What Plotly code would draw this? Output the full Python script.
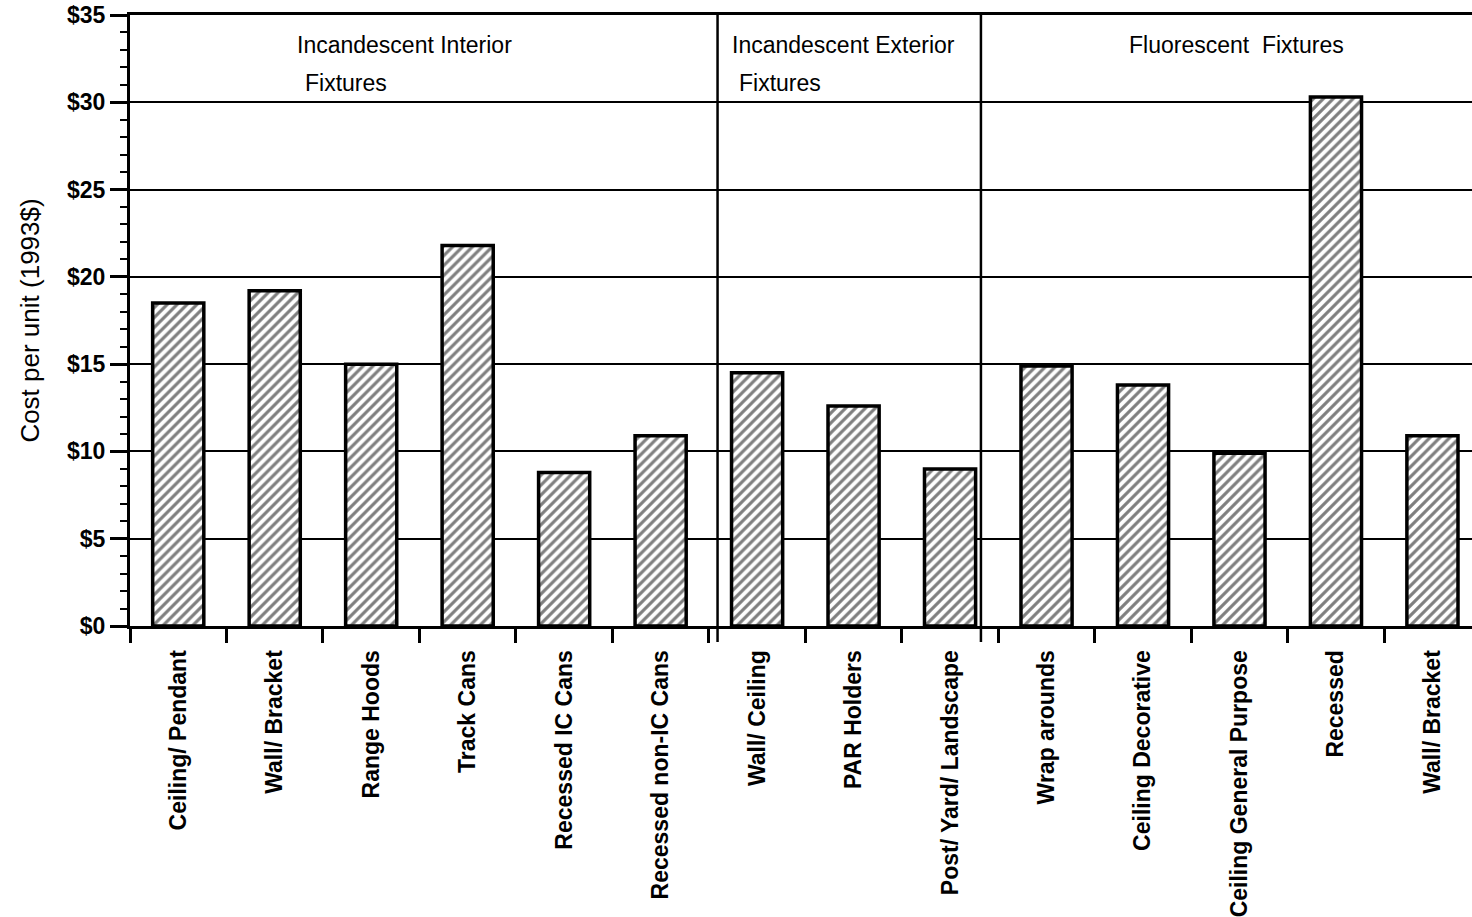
import plotly.graph_objects as go

categories = ["Ceiling/ Pendant", "Wall/ Bracket", "Range Hoods", "Track Cans",
              "Recessed IC Cans", "Recessed non-IC Cans", "Wall/ Ceiling", "PAR Holders",
              "Post/ Yard/ Landscape", "Wrap arounds", "Ceiling Decorative",
              "Ceiling General Purpose", "Recessed", "Wall/ Bracket"]
costs = [18.5, 19.2, 15.0, 21.8, 8.8, 10.9, 14.5, 12.6, 9.0, 14.9, 13.8, 9.9, 30.3, 10.9]
y_ticks = [0, 5, 10, 15, 20, 25, 30, 35]
y_tick_labels = ["$0", "$5", "$10", "$15", "$20", "$25", "$30", "$35"]
group_separators = [5.59, 8.32]
group_labels = [
    ("Incandescent Interior", 1.21, 33.3),
    ("Fixtures", 1.29, 31.1),
    ("Incandescent Exterior", 5.72, 33.3),
    ("Fixtures", 5.79, 31.1),
    ("Fluorescent  Fixtures", 9.83, 33.3),
]

xs = list(range(len(categories)))
FONT = "Liberation Sans, Arial, Helvetica, sans-serif"

fig = go.Figure()
fig.add_trace(go.Bar(
    x=xs, y=costs, width=0.53,
    marker=dict(color="white",
                line=dict(color="black", width=3.5),
                pattern=dict(shape="/", fgcolor="black", bgcolor="white",
                             size=7, solidity=0.45)),
    showlegend=False, hoverinfo="skip",
))

for sx in group_separators:
    fig.add_shape(type="line", xref="x", yref="paper", x0=sx, x1=sx,
                  y0=-0.026, y1=1, line=dict(color="black", width=2.5), layer="above")

for text, gx, gy in group_labels:
    fig.add_annotation(x=gx, y=gy, xref="x", yref="y", text=text, showarrow=False,
                       xanchor="left", yanchor="middle",
                       font=dict(family=FONT, size=23, color="black"))

boundaries = [i - 0.5 for i in range(len(categories) + 1)]

fig.update_layout(
    width=1472, height=917,
    margin=dict(l=130, r=0, t=15, b=289),
    paper_bgcolor="white", plot_bgcolor="white",
    xaxis=dict(
        range=[-0.5, 13.41], tickvals=xs, ticktext=categories, tickangle=-90,
        ticks="outside", ticklen=12, tickcolor="rgba(0,0,0,0)",
        tickfont=dict(family=FONT, size=23, color="black", weight="bold"),
        showline=True, linecolor="black", linewidth=3, mirror=True,
        showgrid=False, zeroline=False,
        minor=dict(tickvals=boundaries, ticks="outside", ticklen=14,
                   tickcolor="black", tickwidth=2.5, showgrid=False),
    ),
    yaxis=dict(
        range=[0, 35], tickvals=y_ticks, ticktext=y_tick_labels,
        ticks="outside", ticklen=17, tickwidth=2.5, tickcolor="black",
        tickfont=dict(family=FONT, size=23, color="black", weight="bold"),
        showline=True, linecolor="black", linewidth=3,
        showgrid=True, gridcolor="black", gridwidth=2, zeroline=False,
        minor=dict(dtick=1, ticks="outside", ticklen=7, tickwidth=1.5,
                   tickcolor="black", showgrid=False),
        title=dict(text="Cost per unit (1993$)", standoff=20,
                   font=dict(family=FONT, size=26, color="black")),
    ),
)

fig.write_html("out.html", config={"displayModeBar": False},
               post_script="document.body.style.margin='0';document.body.style.overflow='hidden';")
